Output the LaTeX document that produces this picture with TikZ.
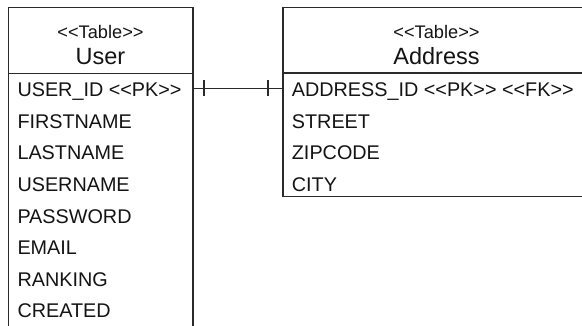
\documentclass[tikz,border=0pt]{standalone}
\usepackage{fontspec}
\setmainfont{Liberation Sans}[Ligatures=TeXOff]
\definecolor{ink}{HTML}{141414}
\definecolor{edge}{HTML}{2A2A2A}
\begin{document}
\begin{tikzpicture}[x=1pt,y=-1pt,
  box/.style={draw=edge, line width=1.4pt, fill=white, outer sep=0pt, inner sep=0pt},
  rule/.style={draw=edge, line width=1.4pt},
  stereo/.style={text=ink, font=\fontsize{18.2}{18.2}\selectfont, anchor=base, inner sep=0pt},
  title/.style={text=ink, font=\fontsize{23.5}{23.5}\selectfont, anchor=base, inner sep=0pt},
  field/.style={text=ink, font=\fontsize{19.8}{19.8}\selectfont, anchor=base west, inner sep=0pt},
  link/.style={draw=edge, line width=1.2pt}]
\useasboundingbox (0,0) rectangle (582,326);
\clip (0,0) rectangle (582,326);
\fill[white] (0,0) rectangle (582,326);

% table frames
\node[box, anchor=north west, minimum width=184.5pt, minimum height=340pt] (user) at (8.5,7.5) {};
\node[box, anchor=north west, minimum width=307pt, minimum height=189.2pt] (address) at (283,7.5) {};
\draw[rule] (user.west |- 0,73.5) -- (user.east |- 0,73.5);
\draw[rule] (address.west |- 0,73) -- (address.east |- 0,73);

% User table
\node[stereo] (ustereo) at (100.5,38.3) {<<Table>>};
\node[title] (utitle) at (100.5,65) {User};
\node[field] (uid) at (17.3,96.7) {USER\_ID <<PK>>};
\node[field] (ufirst) at (17.3,128.3) {FIRSTNAME};
\node[field] (ulast) at (17.3,159.9) {LASTNAME};
\node[field] (uname) at (17.3,191.5) {USERNAME};
\node[field] (upass) at (17.3,223.1) {PASSWORD};
\node[field] (umail) at (17.3,254.7) {EMAIL};
\node[field] (urank) at (17.3,286.3) {RANKING};
\node[field] (ucreated) at (17.3,317.9) {CREATED};

% Address table
\node[stereo] (astereo) at (436.5,38.3) {<<Table>>};
\node[title] (atitle) at (436.5,65) {Address};
\node[field] (aid) at (291.7,96.7) {ADDRESS\_ID <<PK>> <<FK>>};
\node[field] (astreet) at (291.7,128.3) {STREET};
\node[field] (azip) at (291.7,159.9) {ZIPCODE};
\node[field] (acity) at (291.7,191.5) {CITY};

% one-to-one relationship
\coordinate (uport) at (user.east |- 0,88.5);
\coordinate (aport) at (address.west |- 0,88.5);
\draw[link] (uport) -- (aport);
\draw[link] ([xshift=11pt]uport) ++(0,-8) -- ++(0,16);
\draw[link] ([xshift=-15pt]aport) ++(0,-8) -- ++(0,16);
\end{tikzpicture}
\end{document}
